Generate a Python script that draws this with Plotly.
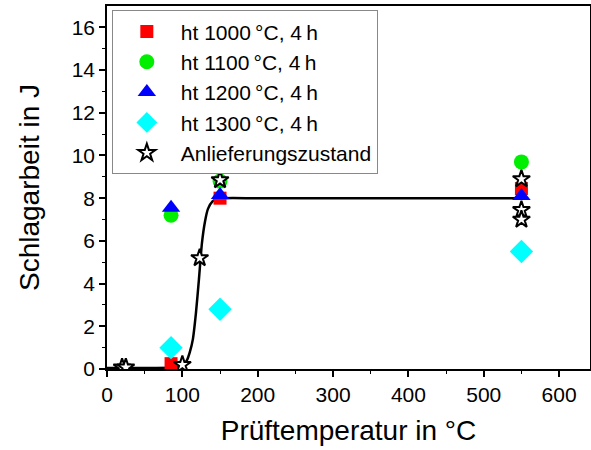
import plotly.graph_objects as go

# Data
x_1000 = [85, 150, 550]
y_1000 = [0.25, 8.0, 8.45]
x_1100 = [85, 150, 550]
y_1100 = [7.2, 8.8, 9.7]
x_1200 = [85, 150, 550]
y_1200 = [7.55, 8.15, 8.1]
x_1300 = [85, 150, 550]
y_1300 = [1.0, 2.8, 5.5]
x_as = [20, 25, 100, 123, 150, 550, 550, 550]
y_as = [0.08, 0.08, 0.2, 5.2, 8.85, 8.9, 7.45, 7.0]

# fitted curve
x_fit = [0, 60, 90, 100, 106, 110, 114, 118, 122, 126, 130, 134, 140, 146, 155, 200, 550]
y_fit = [0.05, 0.05, 0.07, 0.15, 0.4, 0.8, 1.4, 2.6, 4.2, 5.9, 6.9, 7.5, 7.85, 7.97, 8.0, 8.0, 8.0]

font_family = "Liberation Sans, Arial, sans-serif"

fig = go.Figure()
fig.add_trace(go.Scatter(x=x_fit, y=y_fit, mode="lines", line=dict(color="black", width=2.5, shape="spline", smoothing=0.6),
                         showlegend=False, hoverinfo="skip"))
fig.add_trace(go.Scatter(x=x_1000, y=y_1000, mode="markers", name="ht 1000\u2009°C, 4\u2009h",
                         marker=dict(symbol="square", size=13, color="#ff0000")))
fig.add_trace(go.Scatter(x=x_1100, y=y_1100, mode="markers", name="ht 1100\u2009°C, 4\u2009h",
                         marker=dict(symbol="circle", size=15, color="#00ee00")))
fig.add_trace(go.Scatter(x=x_1200, y=y_1200, mode="markers", name="ht 1200\u2009°C, 4\u2009h",
                         marker=dict(symbol="triangle-up", size=16, color="#0000ff")))
fig.add_trace(go.Scatter(x=x_1300, y=y_1300, mode="markers", name="ht 1300\u2009°C, 4\u2009h",
                         marker=dict(symbol="diamond", size=18, color="#00ffff")))
fig.add_trace(go.Scatter(x=x_as, y=y_as, mode="markers", name="Anlieferungszustand",
                         marker=dict(symbol="star", size=13, color="white", line=dict(color="black", width=2))))

axis_common = dict(
    showgrid=False, zeroline=False, showline=True, linecolor="black", linewidth=1.5,
    mirror=True, ticks="outside", ticklen=6, tickwidth=1.5, tickcolor="black",
    tickfont=dict(family=font_family, size=21, color="black"),
    minor=dict(ticks="outside", ticklen=3, tickwidth=1.2, tickcolor="black"),
    automargin=False,
)

fig.update_layout(
    width=591, height=450,
    margin=dict(l=107, r=1, t=6, b=81),
    paper_bgcolor="white", plot_bgcolor="white",
    font=dict(family=font_family, color="black"),
    xaxis=dict(range=[0, 641], tickvals=[0, 100, 200, 300, 400, 500, 600],
               title=dict(text="Prüftemperatur in °C", font=dict(size=28), standoff=15),
               **axis_common),
    yaxis=dict(range=[0, 17], tickvals=[0, 2, 4, 6, 8, 10, 12, 14, 16],
               title=dict(text="Schlagarbeit in J", font=dict(size=28), standoff=24),
               **axis_common),
    legend=dict(x=0.01, y=0.988, xanchor="left", yanchor="top",
                bgcolor="white", bordercolor="#888888", borderwidth=1,
                font=dict(family=font_family, size=21, color="black"),
                itemsizing="trace", itemwidth=58, tracegroupgap=0),
)
fig.update_xaxes(minor=dict(tickvals=[50, 150, 250, 350, 450, 550]))
fig.update_yaxes(minor=dict(tickvals=[1, 3, 5, 7, 9, 11, 13, 15]))

fig.write_html("out.html", config={"displayModeBar": False},
               post_script="document.body.style.margin='0';document.body.style.overflow='hidden';")
